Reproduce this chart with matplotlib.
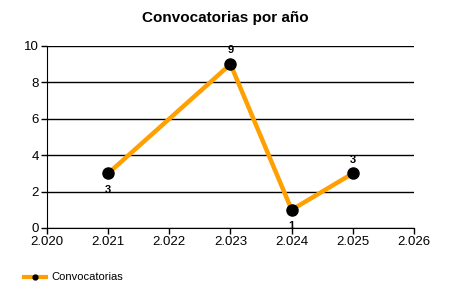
import matplotlib.pyplot as plt
from matplotlib.lines import Line2D

plt.rcParams['font.family'] = ['Liberation Sans', 'DejaVu Sans']

# Data
years = [2021, 2023, 2024, 2025]
counts = [3, 9, 1, 3]
label_pos = ["below", "above", "below", "above"]
x_ticks = [2020, 2021, 2022, 2023, 2024, 2025, 2026]
x_tick_labels = ["2.020", "2.021", "2.022", "2.023", "2.024", "2.025", "2.026"]
y_ticks = [0, 2, 4, 6, 8, 10]

fig = plt.figure(figsize=(4.5, 3), dpi=100)
ax = fig.add_axes([0.1044, 0.24, 0.8156, 0.6067])

ax.plot(years, counts, color="#FFA000", linewidth=3.2, solid_capstyle="butt",
        marker="o", markersize=8, markerfacecolor="black",
        markeredgecolor="black", zorder=3)

for x, y, p in zip(years, counts, label_pos):
    off = 10 if p == "above" else -12
    ax.annotate(str(y), (x, y), xytext=(0, off), textcoords="offset points",
                ha="center", va="center", fontsize=8, fontweight="bold")

ax.set_xlim(2020, 2026)
ax.set_ylim(0, 10)
ax.set_xticks(x_ticks)
ax.set_xticklabels(x_tick_labels)
ax.set_yticks(y_ticks)
ax.tick_params(labelsize=9.5, length=4, width=1, color="black", pad=2)
ax.grid(axis="y", color="black", linewidth=1)
ax.set_axisbelow(True)
for s in ["top", "right"]:
    ax.spines[s].set_visible(False)

fig.text(0.5, 0.94, "Convocatorias por año", ha="center", va="center",
         fontsize=11, fontweight="bold")

handle = Line2D([], [], color="#FFA000", linewidth=3, marker="o",
                markersize=3.5, markerfacecolor="black", markeredgecolor="black")
fig.legend([handle], ["Convocatorias"], loc="center left",
           bbox_to_anchor=(0.03, 0.075), frameon=False, fontsize=8,
           handlelength=2, handletextpad=0.5)

plt.savefig("out.png", dpi=100)
